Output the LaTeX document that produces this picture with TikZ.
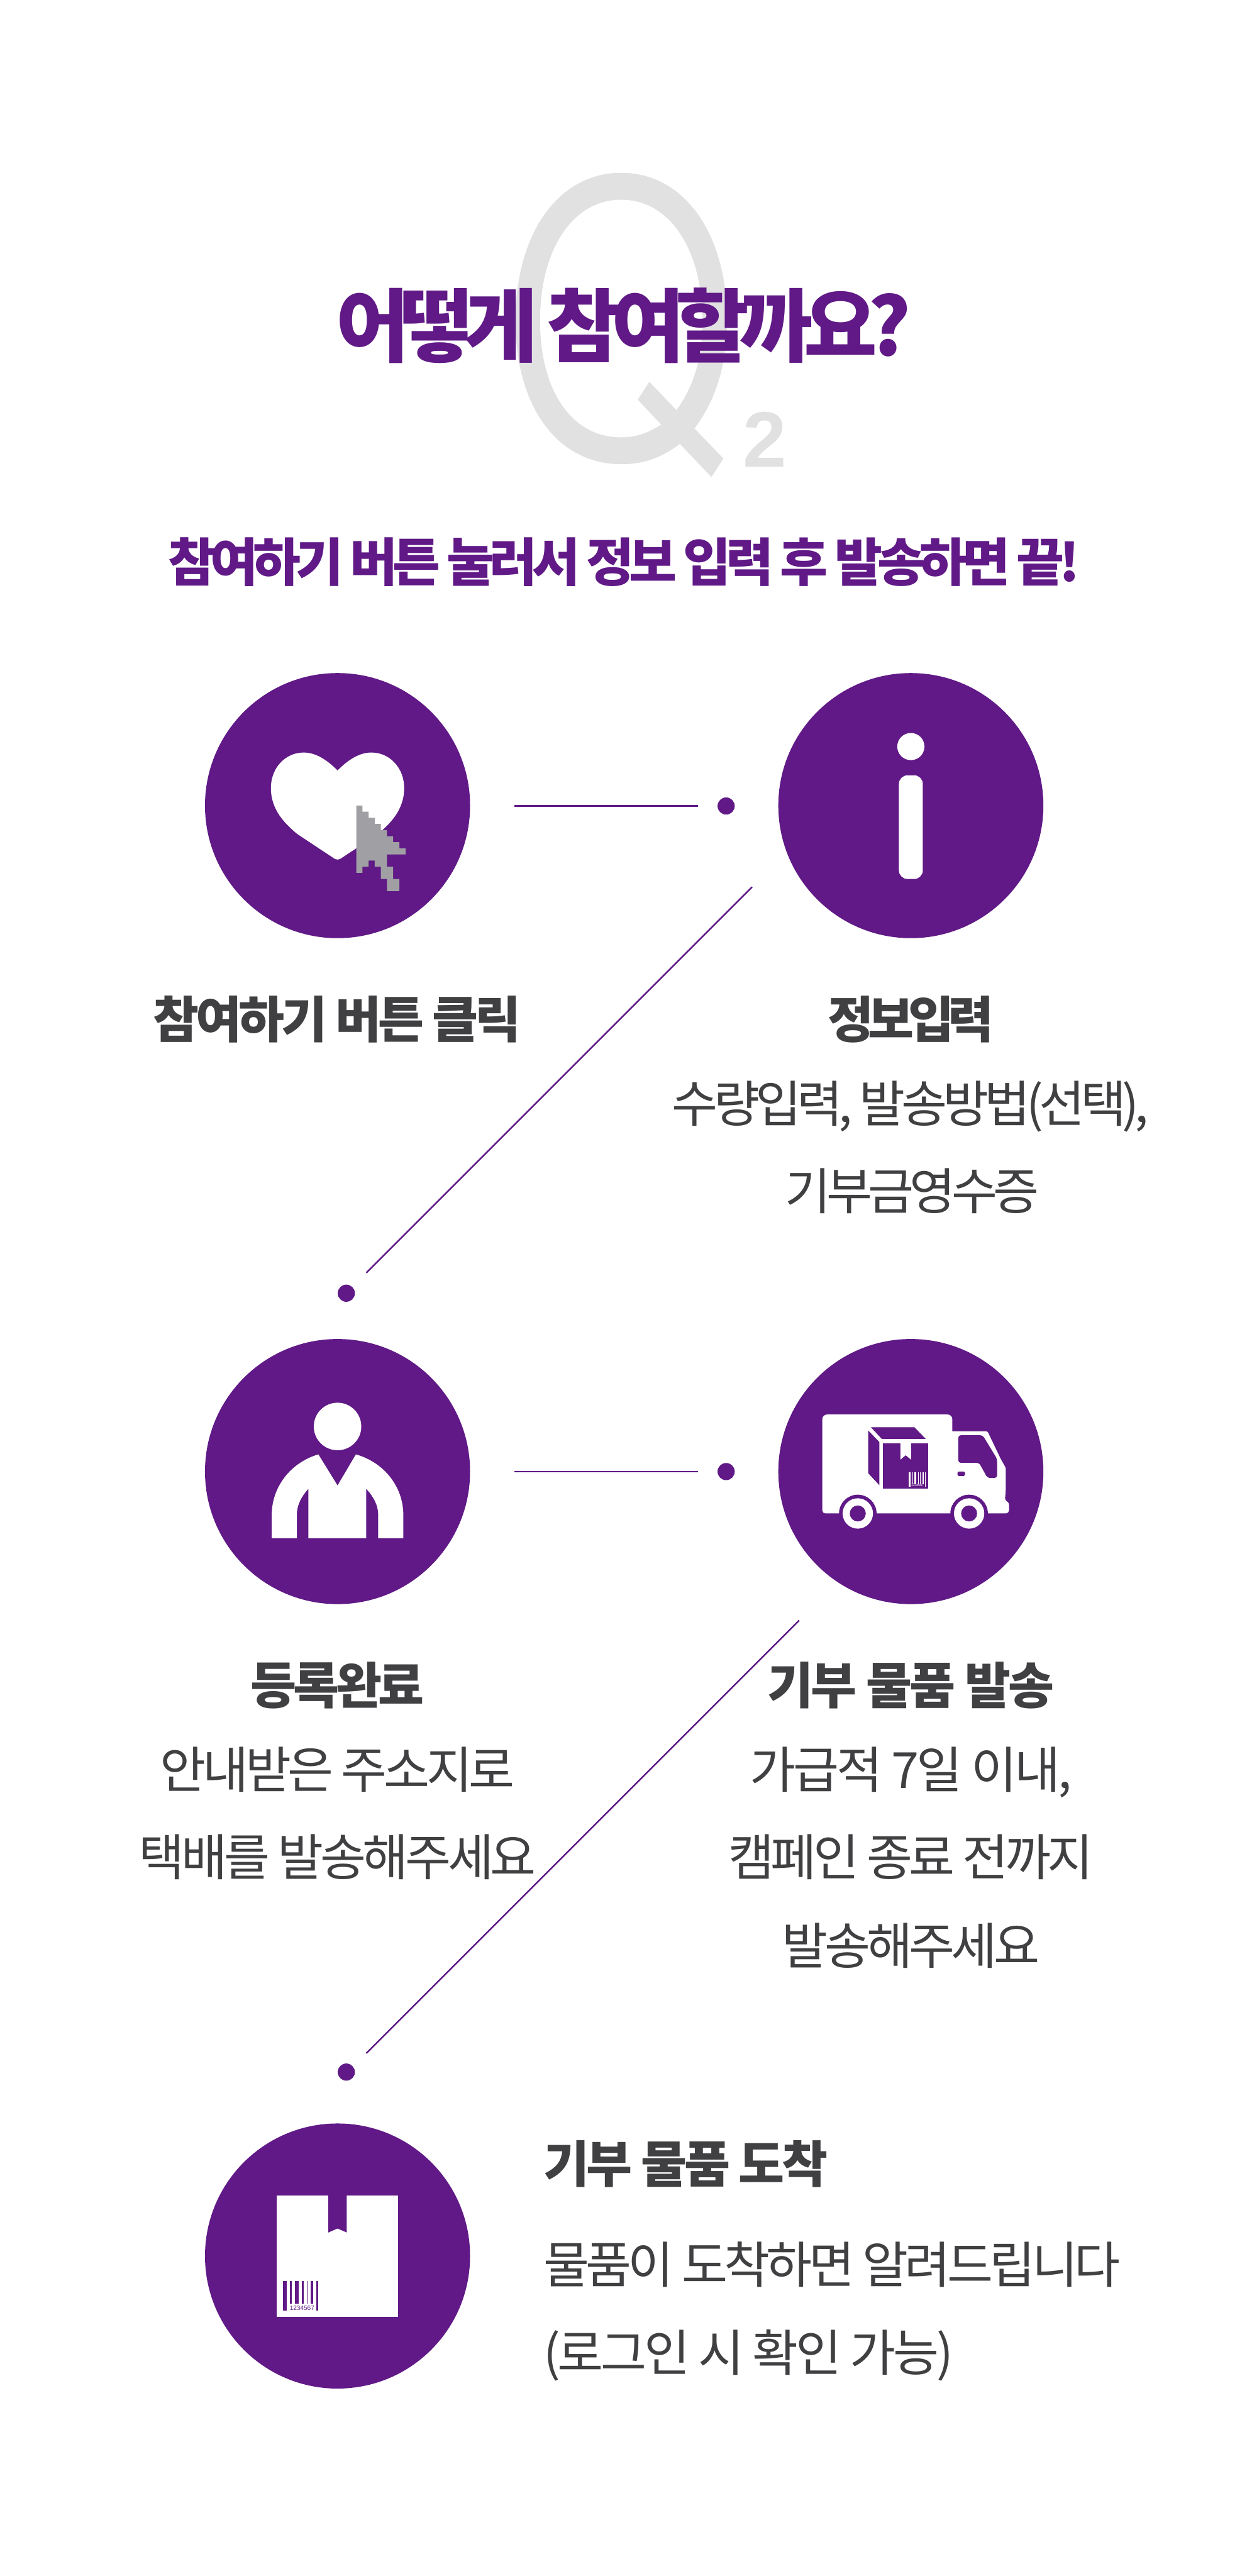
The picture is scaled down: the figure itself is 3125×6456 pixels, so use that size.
\documentclass[tikz,border=0pt]{standalone}
\usepackage{fontspec}
\usepackage{graphicx}
\setmainfont{Noto Sans CJK KR}
\newfontfamily\arialf{Liberation Sans}
\newfontfamily\qfont{TeX Gyre Heros}
\definecolor{pur}{HTML}{601986}
\definecolor{txt}{HTML}{404042}
\definecolor{qgray}{HTML}{E1E1E1}
\definecolor{cur}{HTML}{A0A0A4}
% em in px, target width in px, number of glyphs (spaces not counted), text
\newcommand\fittext[4]{%
  \pgfmathsetmacro\fsz{#1*0.28453}%
  \fontsize{\fsz pt}{\fsz pt}\selectfont
  \setbox0=\hbox{#4}%
  \pgfmathsetmacro\lsv{((#2+0.09*#1)*0.28453-\the\wd0)/(#3-1)/\fsz*100}%
  \edef\dofeat{\noexpand\addfontfeature{LetterSpace=\lsv}}\dofeat
  #4}
\tikzset{
  x=0.01cm,y=-0.01cm,
  lbl/.style={inner sep=0pt,outer sep=0pt,anchor=base,text=txt},
  lblL/.style={lbl,anchor=base west},
  head/.style={inner sep=0pt,outer sep=0pt,anchor=base,text=pur,font=\bfseries},
  disc/.style={circle,fill=pur,draw=none,minimum size=6.64cm,inner sep=0pt},
  dotn/.style={circle,fill=pur,draw=none,minimum size=0.43cm,inner sep=0pt},
  conn/.style={draw=pur,line width=0.04cm},
}
\begin{document}
\begin{tikzpicture}
\useasboundingbox (0,0) rectangle (3125,6456);
\fill[white] (0,0) rectangle (3125,6456);
% watermark
\node[inner sep=0pt,outer sep=0pt,anchor=base west,text=qgray] (qmark) at (1258,1152)
  {\qfont\fontsize{276pt}{276pt}\selectfont\scalebox{0.79}[1]{\special{pdf:code q 2 Tr 3.4 w 1 1 1 RG}Q\special{pdf:code 0 Tr Q}}};
\node[inner sep=0pt,outer sep=0pt,anchor=base,text=qgray] (qtwo) at (1917,1170)
  {\arialf\bfseries\fontsize{56pt}{56pt}\selectfont 2};
% headings
\node[head] (title) at (1563,892) {\fittext{200}{1423}{9}{어떻게 참여할까요?}};
\node[head] (subt) at (1564,1457) {\fittext{130}{2273}{20}{참여하기 버튼 눌러서 정보 입력 후 발송하면 끝!}};
% circles
\node[disc] (c1) at (846,2019) {};
\node[disc] (c2) at (2283,2019) {};
\node[disc] (c3) at (846,3688) {};
\node[disc] (c4) at (2283,3688) {};
\node[disc] (c5) at (846,5654) {};
% dots
\node[dotn] (d1) at (1820,2020) {};
\node[dotn] (d2) at (868,3241) {};
\node[dotn] (d3) at (1820,3688) {};
\node[dotn] (d4) at (868,5193) {};
% connector ends
\coordinate (a1) at (1289,2020); \coordinate (a2) at (1750,2020);
\coordinate (b1) at (1885,2223); \coordinate (b2) at (918,3190);
\coordinate (e1) at (1289,3688); \coordinate (e2) at (1750,3688);
\coordinate (f1) at (2003,4061); \coordinate (f2) at (918,5146);
\draw[conn] (a1) -- (a2);
\draw[conn] (b1) -- (b2);
\draw[conn] (e1) -- (e2);
\draw[conn] (f1) -- (f2);
% heart + cursor
\fill[white] (846,1931) .. controls (820,1905) and (792,1886) .. (761,1886)
  .. controls (715,1886) and (679,1925) .. (679,1975)
  .. controls (679,2030) and (715,2065) .. (745,2090)
  -- (834,2149) .. controls (842,2156) and (850,2156) .. (858,2149)
  -- (947,2090) .. controls (977,2065) and (1013,2030) .. (1013,1975)
  .. controls (1013,1925) and (977,1886) .. (931,1886)
  .. controls (900,1886) and (872,1905) .. (846,1931) -- cycle;
\begin{scope}[shift={(893,2019)},x=0.154cm,y=-0.153cm]
\fill[cur] (0,0)--(1,0)--(1,1)--(2,1)--(2,2)--(3,2)--(3,3)--(4,3)--(4,4)--(5,4)--(5,5)--(6,5)--(6,6)--(7,6)--(7,7)--(8,7)--(8,8)--(5,8)--(5,10)--(6,10)--(6,12)--(7,12)--(7,14)--(5,14)--(5,12)--(4,12)--(4,10)--(3,10)--(3,9)--(2,9)--(2,10)--(1,10)--(1,11)--(0,11)--cycle;
\end{scope}
% info icon
\fill[white] (2283,1871) circle[radius=0.34cm];
\fill[white,rounded corners=0.22cm] (2253,1943) rectangle (2313,2203);
% person
\fill[white] (846,3575) circle[radius=0.595cm];
\fill[white] (681,3855) -- (681,3798) .. controls (681,3725) and (730,3665) .. (798,3645)
  -- (846,3723) -- (892,3645) .. controls (962,3665) and (1011,3725) .. (1011,3798)
  -- (1011,3855) -- (948,3855) -- (948,3798) .. controls (948,3770) and (935,3750) .. (918,3731)
  -- (918,3855) -- (773,3855) -- (773,3731) .. controls (756,3750) and (744,3770) .. (744,3798)
  -- (744,3855) -- cycle;
% truck
\fill[white,rounded corners=0.12cm] (2061,3793) -- (2061,3545) -- (2387,3545) [sharp corners] -- (2387,3587)
  [rounded corners=0.04cm] -- (2475,3587) -- (2508,3656) -- (2521,3679) -- (2521,3729) -- (2519,3759) -- (2529,3767) [rounded corners=0.08cm] -- (2529,3793) -- cycle;
\fill[pur,rounded corners=0.06cm] (2402,3597) -- (2463,3597) -- (2499,3656) -- (2499,3704) -- (2475,3704) -- (2454,3666) -- (2402,3666) -- cycle;
\fill[pur,rounded corners=0.03cm] (2400,3688) rectangle (2419,3699);
\fill[pur] (2183,3577) -- (2292,3577) -- (2320,3606) -- (2210,3606) -- cycle;
\fill[pur] (2176,3585) -- (2204,3614) -- (2204,3722) -- (2176,3692) -- cycle;
\fill[pur] (2213,3617) rectangle (2327,3730);
\fill[white] (2257,3617) -- (2283.5,3617) -- (2283.5,3658) -- (2270,3647) -- (2257,3658) -- cycle;
\fill[white] (2278,3689) rectangle (2282.6,3726);
\fill[white] (2286.5,3689) rectangle (2288.6,3719);
\fill[white] (2292.4,3689) rectangle (2297,3719);
\fill[white] (2300.9,3689) rectangle (2303,3719);
\fill[white] (2306.7,3689) rectangle (2307.7,3719);
\fill[white] (2311.5,3689) rectangle (2314.7,3719);
\fill[white] (2318.8,3689) rectangle (2320.8,3726);
\node[inner sep=0pt,outer sep=0pt,anchor=base,text=white] (tcode) at (2299.5,3726) {\arialf\fittext{9}{31}{7}{1234567}};
\foreach \wx in {2150,2429}{
  \fill[pur] (\wx,3793) circle[radius=0.47cm];
  \fill[white] (\wx,3793) circle[radius=0.38cm];
  \fill[pur] (\wx,3793) circle[radius=0.20cm];
}
% parcel icon
\fill[white] (694,5502) rectangle (998,5807);
\fill[pur] (823,5502) -- (869,5502) -- (869,5595) -- (846,5585) -- (823,5595) -- cycle;
\fill[pur] (710,5717) rectangle (719.3,5790);
\fill[pur] (727.3,5717) rectangle (731.7,5773);
\fill[pur] (739.3,5717) rectangle (749,5773);
\fill[pur] (756.7,5717) rectangle (761,5773);
\fill[pur] (768.7,5717) rectangle (770.7,5773);
\fill[pur] (778.3,5717) rectangle (785,5773);
\fill[pur] (793.3,5717) rectangle (797.3,5790);
\node[inner sep=0pt,outer sep=0pt,anchor=base,text=pur] (bcode) at (757,5790) {\arialf\fittext{16}{60}{7}{1234567}};
% labels
\node[lbl,font=\bfseries] (t1) at (845,2601) {\fittext{125}{910}{8}{참여하기 버튼 클릭}};
\node[lbl,font=\bfseries] (t2) at (2283,2601) {\fittext{125}{406}{4}{정보입력}};
\node[lbl] (t2a) at (2282,2812) {\fittext{125}{1183}{14}{수량입력, 발송방법(선택),}};
\node[lbl] (t2b) at (2286,3032) {\fittext{125}{625}{6}{기부금영수증}};
\node[lbl,font=\bfseries] (t3) at (846,4270) {\fittext{125}{424}{4}{등록완료}};
\node[lbl] (t3a) at (846,4481) {\fittext{125}{877}{8}{안내받은 주소지로}};
\node[lbl] (t3b) at (846,4701) {\fittext{125}{984}{9}{택배를 발송해주세요}};
\node[lbl,font=\bfseries] (t4) at (2283,4270) {\fittext{125}{708}{6}{기부 물품 발송}};
\node[lbl] (t4a) at (2283,4481) {\fittext{125}{795}{8}{가급적 7일 이내,}};
\node[lbl] (t4b) at (2283,4701) {\fittext{125}{902}{8}{캠페인 종료 전까지}};
\node[lbl] (t4c) at (2283,4923) {\fittext{125}{634}{6}{발송해주세요}};
\node[lblL,font=\bfseries] (t5) at (1362,5470) {\fittext{125}{701}{6}{기부 물품 도착}};
\node[lblL] (t5a) at (1362,5722) {\fittext{125}{1434}{13}{물품이 도착하면 알려드립니다}};
\node[lblL] (t5b) at (1362,5943) {\fittext{125}{1016}{10}{(로그인 시 확인 가능)}};
\end{tikzpicture}
\end{document}
